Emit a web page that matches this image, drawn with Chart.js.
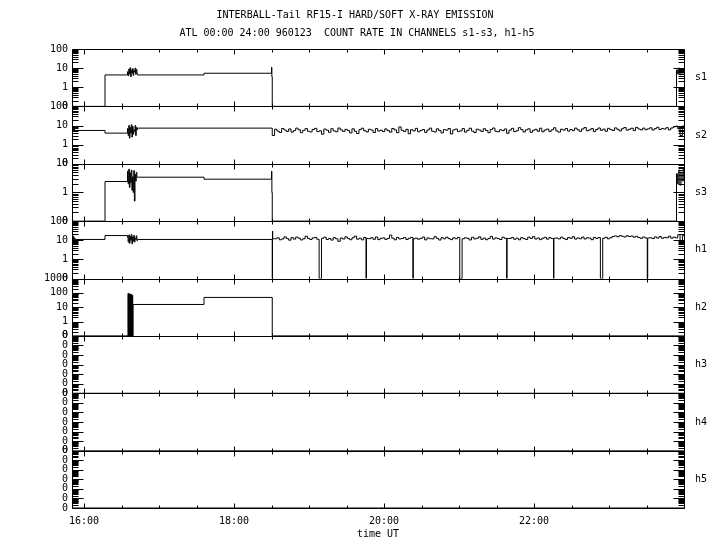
<!DOCTYPE html>
<html>
<head>
<meta charset="utf-8">
<title>INTERBALL-Tail RF15-I</title>
<script src="https://cdn.jsdelivr.net/npm/chart.js@4.4.1/dist/chart.umd.min.js"></script>
<style>
    html, body { margin: 0; padding: 0; background: #fff; }
    #xrayChart { display: block; }
</style>
</head>
<body>
<canvas id="xrayChart" width="720" height="550"></canvas>
<script>
// times are decimal hours UT, 1996-01-23
const T_FIRST = 15.84;
const T_LAST = 24.0;

const titleLines = [
    'INTERBALL-Tail RF15-I HARD/SOFT X-RAY EMISSION',
    'ATL 00:00 24:00 960123  COUNT RATE IN CHANNELS s1-s3, h1-h5'
];
const channelNames = ['s1', 's2', 's3', 'h1', 'h2', 'h3', 'h4', 'h5'];
const channelMax = [100, 100, 10, 100, 1000, 1e5, 1e5, 1e5];
const AXIS_FLOOR = 0.1; // bottom of every log axis, labelled "0"
const timeTicks = [16, 18, 20, 22];
const xAxisTitle = 'time UT';

// step levels: [hour, count rate], each value holds until the next one
const s1Steps = [[15.84, 0], [16.28, 4.4], [16.713, 4.4], [17.60, 5.4], [18.50, 11], [18.505, 3.5], [18.51, 0],
    [23.90, 8], [23.915, 5], [23.93, 10], [23.945, 4.5], [23.96, 7], [23.975, 5.5], [23.99, 9], [24.0, 9]];
const s2Steps = [[15.84, 6], [15.848, 9], [15.856, 5], [15.864, 8.5], [15.872, 5.2], [15.88, 5.5],
    [16.28, 4.0], [16.713, 7.3], [24.0, 9.4]];
const s3Steps = [[15.84, 0], [16.28, 2.4], [16.713, 3.4], [17.60, 2.9], [18.50, 5.5], [18.505, 1.0], [18.51, 0],
    [23.90, 4.5], [23.915, 2.0], [23.93, 6.0], [23.945, 1.8], [23.96, 5.0], [23.975, 2.5], [23.99, 6.5], [24.0, 6.5]];
// h1 also carries the short recoveries right after the thin dropouts
const h1Steps = [[15.84, 14], [15.848, 8], [15.856, 16], [15.864, 7], [15.872, 13], [15.88, 9], [15.888, 11],
    [16.28, 17.6], [16.713, 11], [18.513, 30], [18.516, 12],
    [19.766, 12.5], [20.391, 12.0], [21.641, 12.4], [22.266, 12.8], [23.516, 13.0], [24.0, 17.5]];
const h2Steps = [[15.84, 0], [16.654, 15.5], [17.60, 48], [18.51, 0], [24.0, 0]];
const h3Steps = [[15.84, 0], [24.0, 0]];
const h4Steps = [[15.84, 0], [24.0, 0]];
const h5Steps = [[15.84, 0], [24.0, 0]];

// burst near 16:35, one sample per 30 s
const BURST_START = 16.58;
const BURST_STEP = 1 / 120;
const s1Burst = [6.5, 4.0, 9.0, 5.0, 10.5, 3.6, 8.0, 5.5, 9.5, 4.2, 7.5, 6.2, 10.0, 4.8, 8.5, 5.2];
const s2Burst = [7.0, 3.0, 10.0, 2.2, 8.0, 4.0, 11.0, 2.5, 9.0, 3.5, 6.0, 5.0, 10.0, 3.0, 8.0, 6.0];
const s3Burst = [5.5, 2.0, 6.5, 1.5, 4.8, 2.2, 6.0, 1.2, 3.5, 1.0, 5.8, 0.5, 4.2, 2.5, 5.0, 3.4];
const h1Burst = [14, 8, 19, 7, 16, 10, 20, 6.5, 15, 9, 18, 8, 13, 11, 17, 9.5];
// h2 burst is shorter, one sample per 15 s
const H2_BURST_START = 16.587;
const H2_BURST_STEP = 1 / 240;
const h2Burst = [90, 0, 88, 0, 85, 0, 82, 0, 78, 0, 75, 0, 72, 0, 68, 0];

// after 18:30 s2 and h1 are noisy, one sample per 1.875 min
const NOISE_START = 18.51;
const NOISE_STEP = 1.875 / 60;
const s2Noise = [
    3.0, 6.4, 5.1, 4.3, 7.0, 5.8, 4.9, 6.6, 4.5, 5.4, 7.3, 6.0, 4.2, 5.6, 6.9, 5.0,
    4.6, 6.2, 7.1, 4.8, 5.3, 3.5, 6.5, 5.7, 4.4, 6.8, 5.2, 4.7, 7.4, 5.9, 4.9, 6.3,
    5.5, 4.1, 6.7, 5.0, 3.8, 6.1, 7.2, 5.3, 4.6, 6.4, 5.8, 4.3, 6.9, 5.1, 5.7, 4.8,
    6.6, 5.4, 4.5, 7.0, 5.9, 4.2, 8.4, 5.6, 4.9, 6.3, 3.7, 6.0, 5.2, 7.1, 4.7, 5.5,
    6.2, 4.4, 5.8, 7.3, 5.0, 4.6, 6.7, 5.4, 4.1, 6.1, 5.7, 7.0, 3.6, 5.9, 6.5, 4.8,
    5.3, 6.9, 4.5, 5.6, 7.2, 5.1, 4.3, 6.4, 5.8, 4.9, 6.8, 5.5, 4.2, 6.2, 7.4, 5.0,
    4.7, 6.0, 5.4, 6.6, 3.9, 5.7, 7.1, 4.8, 5.3, 7.7, 6.1, 4.6, 5.9, 6.7, 4.4, 5.6,
    6.3, 5.0, 7.2, 4.7, 5.8, 6.5, 4.9, 6.0, 7.6, 5.2, 4.5, 6.4, 5.7, 7.0, 5.1, 6.2,
    5.4, 7.3, 6.0, 4.9, 6.6, 7.8, 5.3, 5.9, 6.9, 4.8, 6.2, 7.4, 5.6, 6.5, 5.0, 7.1,
    6.1, 5.5, 7.5, 6.3, 5.2, 6.8, 7.9, 5.7, 6.4, 7.2, 5.4, 8.0, 6.6, 5.9, 7.3, 6.0,
    6.7, 7.6, 5.8, 6.9, 8.1, 6.2, 7.0, 6.5, 7.7, 5.9, 7.4, 8.4, 9.2, 6.8, 3.0, 9.4
];
// one row per 37.5 min period, each starting with a dropout
const h1Noise = [
    0, 12, 13.4, 10.6, 11.8, 15.0, 12.2, 10.1, 13.7, 11.5, 14.6, 12.8, 10.4, 11.9, 16.2, 12.5, 10.9, 13.2, 14.1, 11.3,
    0, 12.7, 14.4, 11.0, 12.3, 10.2, 13.8, 12.0, 8.8, 13.1, 11.6, 15.2, 12.4, 10.7, 13.5, 16.4, 11.4, 12.9, 10.5, 13.9,
    0, 12.1, 13.6, 11.2, 14.8, 10.8, 12.6, 13.3, 11.1, 12.4, 18.5, 12.9, 10.6, 14.2, 11.7, 12.3, 13.8, 10.9, 12.7, 14.0,
    0, 13.0, 11.4, 12.5, 14.7, 10.5, 13.2, 12.1, 11.8, 15.3, 12.6, 10.3, 13.6, 11.9, 14.5, 12.2, 10.8, 13.4, 12.0, 14.1,
    0, 11.9, 13.5, 12.6, 10.4, 14.3, 11.7, 12.8, 15.1, 11.2, 13.0, 10.7, 12.4, 16.0, 11.5, 13.3, 12.1, 10.9, 14.4, 12.7,
    0, 12.4, 14.0, 11.3, 12.9, 10.6, 13.7, 12.2, 11.0, 14.6, 12.5, 15.5, 11.6, 13.1, 10.8, 12.8, 14.2, 11.4, 13.6, 12.3,
    0, 13.1, 11.8, 14.5, 12.4, 10.9, 13.9, 12.6, 15.4, 11.5, 13.2, 12.0, 14.8, 11.7, 13.5, 12.9, 10.7, 14.1, 12.5, 13.8,
    0, 12.8, 14.3, 11.9, 13.6, 15.8, 16.9, 15.2, 17.6, 16.1, 14.9, 17.2, 15.7, 16.6, 14.4, 15.9, 13.8, 12.6, 14.7, 13.2,
    0, 13.5, 12.2, 14.9, 13.0, 15.6, 12.7, 14.1, 13.4, 16.3, 12.9, 14.6, 13.3, 19.5, 9.0, 17.5
];

const FONT = { family: "'DejaVu Sans Mono', monospace", size: 10 };

function sampled(start, step, values) {
    return values.map((v, i) => [start + i * step, v]);
}

function buildSeries(...parts) {
    return parts.flat()
        .sort((a, b) => a[0] - b[0])
        .map(([t, v]) => ({ x: t, y: Math.max(v, AXIS_FLOOR) })); // zero counts sit on the axis floor
}

const seriesData = {
    s1: buildSeries(s1Steps, sampled(BURST_START, BURST_STEP, s1Burst)),
    s2: buildSeries(s2Steps, sampled(BURST_START, BURST_STEP, s2Burst), sampled(NOISE_START, NOISE_STEP, s2Noise)),
    s3: buildSeries(s3Steps, sampled(BURST_START, BURST_STEP, s3Burst)),
    h1: buildSeries(h1Steps, sampled(BURST_START, BURST_STEP, h1Burst), sampled(NOISE_START, NOISE_STEP, h1Noise)),
    h2: buildSeries(h2Steps, sampled(H2_BURST_START, H2_BURST_STEP, h2Burst)),
    h3: buildSeries(h3Steps),
    h4: buildSeries(h4Steps),
    h5: buildSeries(h5Steps)
};

function decadesOf(min, max) {
    const out = [];
    for (let e = Math.round(Math.log10(min)); e <= Math.round(Math.log10(max)); e++) out.push(Math.pow(10, e));
    return out;
}

const scales = {
    x: {
        type: 'linear',
        min: T_FIRST,
        max: T_LAST,
        border: { display: false },
        grid: { display: false, drawTicks: false },
        afterBuildTicks: (s) => { s.ticks = timeTicks.map(v => ({ value: v })); },
        ticks: { callback: v => `${v}:00`, font: FONT, color: '#000', padding: 7, maxRotation: 0, autoSkip: false },
        title: { display: true, text: xAxisTitle, font: FONT, color: '#000', padding: { top: -6, bottom: 0 } }
    }
};

channelNames.forEach((name, i) => {
    scales[name] = {
        type: 'logarithmic',
        position: 'left',
        stack: 'panels',
        stackWeight: 1,
        weight: channelNames.length - i, // s1 on top
        min: AXIS_FLOOR,
        max: channelMax[i],
        border: { display: false },
        grid: { display: false, drawTicks: false },
        afterBuildTicks: (s) => { s.ticks = decadesOf(AXIS_FLOOR, channelMax[i]).map(v => ({ value: v })); },
        afterFit: (s) => { s.width = 72; },
        ticks: {
            autoSkip: false,
            padding: 4,
            font: FONT,
            color: '#000',
            callback: v => (i >= 5 || v < 1) ? '0' : String(Math.round(v))
        }
    };
});

// panel frames, inward ticks on all sides, channel names and the two title lines
const panelFrame = {
    id: 'panelFrame',
    afterDraw(chart) {
        const { ctx, chartArea: area, scales: sc } = chart;
        const px = v => Math.round(v) + 0.5;
        const left = px(area.left), right = px(area.right);
        ctx.save();
        ctx.strokeStyle = '#000';
        ctx.fillStyle = '#000';
        ctx.lineWidth = 1;
        ctx.beginPath();

        channelNames.forEach((name) => {
            const ys = sc[name];
            const top = px(ys.top), bottom = px(ys.bottom);
            ctx.moveTo(left, top); ctx.lineTo(right, top);
            ctx.moveTo(left, bottom); ctx.lineTo(right, bottom);
            ctx.moveTo(left, top); ctx.lineTo(left, bottom);
            ctx.moveTo(right, top); ctx.lineTo(right, bottom);

            // time ticks every half hour, longer at the labelled hours
            for (let t = 16; t < T_LAST; t += 0.5) {
                const x = px(sc.x.getPixelForValue(t));
                const len = timeTicks.includes(t) ? 5 : 3;
                ctx.moveTo(x, top); ctx.lineTo(x, top + len);
                ctx.moveTo(x, bottom); ctx.lineTo(x, bottom - len);
            }

            // log ticks, long at decades, short at 2..9
            const decades = decadesOf(ys.min, ys.max);
            decades.forEach((d, k) => {
                const steps = k < decades.length - 1 ? 9 : 1;
                for (let m = 1; m <= steps; m++) {
                    const y = px(ys.getPixelForValue(m * d));
                    const len = m === 1 ? 11 : 6;
                    ctx.moveTo(left, y); ctx.lineTo(left + len, y);
                    ctx.moveTo(right, y); ctx.lineTo(right - len, y);
                }
            });
        });
        ctx.stroke();

        ctx.font = `${FONT.size}px ${FONT.family}`;
        ctx.textBaseline = 'middle';
        ctx.textAlign = 'left';
        channelNames.forEach((name) => {
            const ys = sc[name];
            ctx.fillText(name, area.right + 11, (ys.top + ys.bottom) / 2);
        });

        ctx.textAlign = 'center';
        ctx.fillText(titleLines[0], 355, 15);
        ctx.fillText(titleLines[1], 357, 33);
        ctx.restore();
    }
};

// eslint-disable-next-line no-undef
new Chart(document.getElementById('xrayChart'), {
    type: 'line',
    data: {
        datasets: channelNames.map(name => ({
            label: name,
            data: seriesData[name],
            yAxisID: name,
            xAxisID: 'x',
            borderColor: '#000',
            borderWidth: 1,
            stepped: true,
            pointRadius: 0,
            fill: false
        }))
    },
    options: {
        responsive: false,
        animation: false,
        devicePixelRatio: 1,
        layout: { padding: { top: 49, right: 36, bottom: 10, left: 0 } },
        plugins: {
            legend: { display: false },
            tooltip: { enabled: false },
            title: { display: false }
        },
        scales
    },
    plugins: [panelFrame]
});
</script>
</body>
</html>
